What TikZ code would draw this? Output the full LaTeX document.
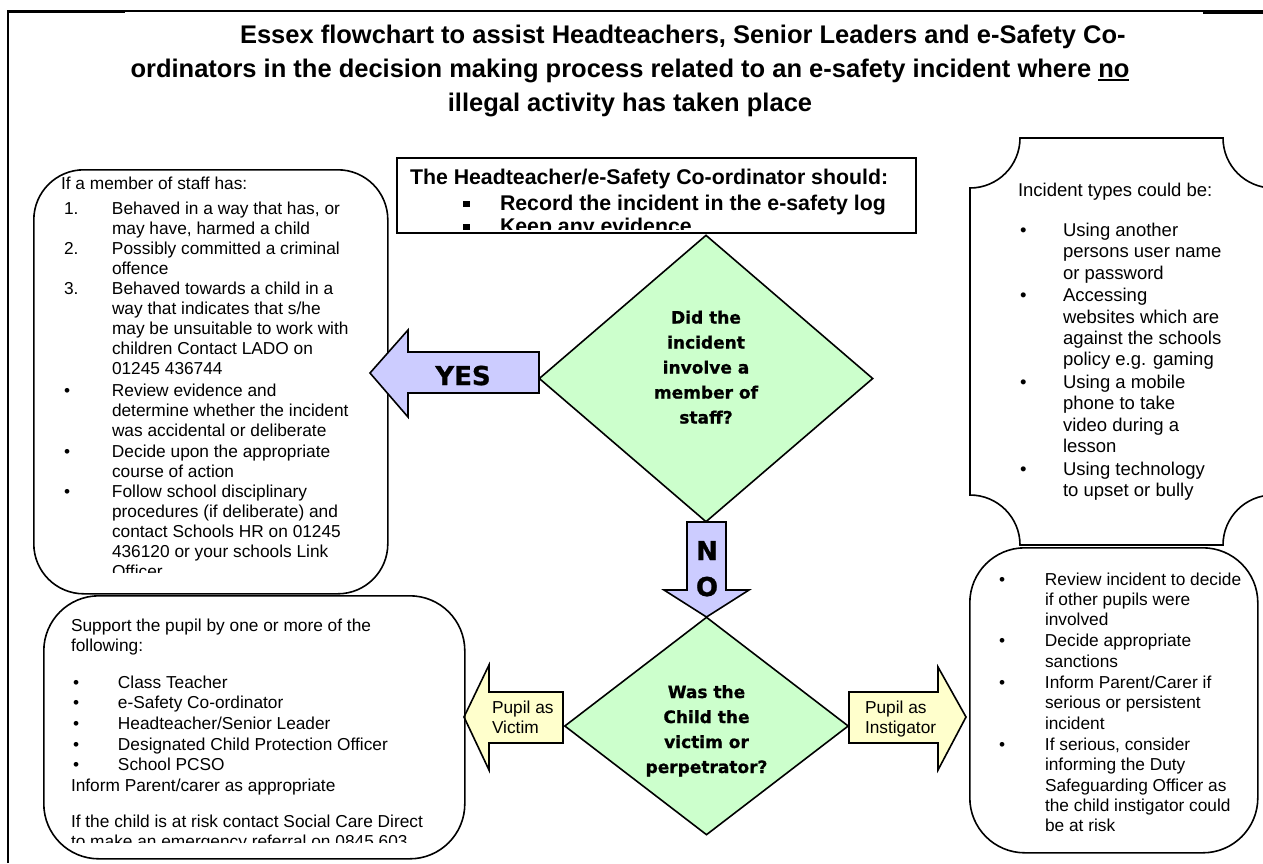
\documentclass[tikz,border=0pt]{standalone}
\usepackage{fontspec}
\setmainfont{Liberation Sans}
\newfontfamily\heavyfont{DejaVu Sans}[BoldFeatures={FakeBold=1.0}]
\usepackage{array}
\usetikzlibrary{shapes.geometric}
\definecolor{dgreen}{HTML}{CCFFCC}
\definecolor{ablue}{HTML}{CCCCFF}
\definecolor{ayellow}{HTML}{FFFFCC}
\newcommand\bodyfont{\fontsize{17.3}{20}\selectfont}
\newcommand\rbfont{\fontsize{17.3}{20.3}\selectfont}
\newcommand\pupfont{\fontsize{17.3}{20.6}\selectfont}
\newcommand\plqfont{\fontsize{18.5}{21.3}\selectfont}
\newcommand\ttlfont{\fontsize{25.5}{34}\selectfont\bfseries}
\newcommand\ctrfont{\fontsize{21.3}{25}\selectfont\bfseries}
\newcommand\qfont{\heavyfont\bfseries\fontsize{17}{25}\selectfont}
\newcommand\bigfont{\heavyfont\bfseries\fontsize{26}{36}\selectfont}
\newcommand\myul[1]{\setbox0\hbox{#1}\rlap{\rule[-3.5pt]{\wd0}{1.8pt}}\box0}
\newcommand\sqbul{\rule[3pt]{6.5pt}{6.5pt}}
\begin{document}
\begin{tikzpicture}[x=1pt,y=-1pt,
  shp/.style={draw=black, line width=1.6pt},
  txt/.style={inner sep=0pt, outer sep=0pt},
  blk/.style={txt, anchor=north west, align=left}]
\useasboundingbox (0,0) rectangle (1263,863);
% page frame
\draw[line width=1.5pt] (8,863) -- (8,11) -- (1263,11);
\draw[line width=2.5pt] (8,11.5) -- (125,11.5);
\draw[line width=1.5pt] (1203,13) -- (1263,13);
% title
\node[txt, anchor=base west] (t1) at (240,43) {\ttlfont Essex flowchart to assist Headteachers, Senior Leaders and e-Safety Co-};
\node[txt, anchor=base] (t2) at (630,77) {\ttlfont ordinators in the decision making process related to an e-safety incident where \myul{no}};
\node[txt, anchor=base] (t3) at (630,111) {\ttlfont illegal activity has taken place};
% central box
\node[shp, anchor=north west, minimum width=519pt, minimum height=75pt, inner sep=0pt] (cbox) at (396,157) {};
\begin{scope}
\clip (396,157) rectangle (915,229);
\node[txt, anchor=base west] (c1) at (410,184) {\ctrfont The Headteacher/e-Safety Co-ordinator should:};
\node[txt, anchor=base west] (c2b) at (463,210) {\sqbul};
\node[txt, anchor=base west] (c2) at (500,210) {\ctrfont Record the incident in the e-safety log};
\node[txt, anchor=base west] (c3b) at (463,233) {\sqbul};
\node[txt, anchor=base west] (c3) at (500,233) {\ctrfont Keep any evidence};
\end{scope}
% left staff box
\node[shp, anchor=north west, rounded corners=50pt, minimum width=354pt, minimum height=424pt, inner sep=0pt] (staff) at (33,169) {};
\begin{scope}
\clip (33,169) rectangle (387,572);
\node[blk] (stafftxt) at (64,175) {\bodyfont
\begin{tabular}{@{}p{48pt}@{}l@{}}
\multicolumn{2}{@{}l@{}}{\hspace*{-3pt}If a member of staff has:}\\[5pt]
1. & Behaved in a way that has, or\\
 & may have, harmed a child\\
2. & Possibly committed a criminal\\
 & offence\\
3. & Behaved towards a child in a\\
 & way that indicates that s/he\\
 & may be unsuitable to work with\\
 & children Contact LADO on\\
 & 01245 436744\\[2pt]
\textbullet & Review evidence and\\
 & determine whether the incident\\
 & was accidental or deliberate\\[1pt]
\textbullet & Decide upon the appropriate\\
 & course of action\\
\textbullet & Follow school disciplinary\\
 & procedures (if deliberate) and\\
 & contact Schools HR on 01245\\
 & 436120 or your schools Link\\
 & Officer
\end{tabular}};
\end{scope}
% plaque (incident types)
\draw[shp, fill=white] (970,188) .. controls (997.6,188) and (1020,165.6) .. (1020,138)
  -- (1223,138) .. controls (1223,165.6) and (1245.4,188) .. (1273,188)
  -- (1273,495) .. controls (1245.4,495) and (1223,517.4) .. (1223,545)
  -- (1020,545) .. controls (1020,517.4) and (997.6,495) .. (970,495) -- cycle;
\node[blk] (plqtxt) at (1018,181.6) {\plqfont
\begin{tabular}{@{}p{45pt}@{}l@{}}
\multicolumn{2}{@{}l@{}}{Incident types could be:}\\[18.7pt]
\hspace*{2pt}\textbullet & Using another\\
 & persons user name\\
 & or password\\[1.5pt]
\hspace*{2pt}\textbullet & Accessing\\
 & websites which are\\
 & against the schools\\
 & policy e.g. gaming\\[1.5pt]
\hspace*{2pt}\textbullet & Using a mobile\\
 & phone to take\\
 & video during a\\
 & lesson\\[1.5pt]
\hspace*{2pt}\textbullet & Using technology\\
 & to upset or bully
\end{tabular}};
% decision 1
\draw[shp, fill=ablue] (539,352) -- (408,352) -- (408,330) -- (370,373) -- (408,417) -- (408,393) -- (539,393) -- cycle;
\node[txt, anchor=base] (yes) at (463,385) {\bigfont YES};
\node[diamond, shp, fill=dgreen, minimum width=334pt, minimum height=287pt, inner sep=0pt] (q1) at (706,378.5) {};
\node[txt, align=center] (q1t) at (706,368.5) {\qfont
\begin{tabular}{@{}c@{}}Did the\\ incident\\ involve a\\ member of\\ staff?\end{tabular}};
% NO arrow
\draw[shp, fill=ablue] (687,522) -- (726,522) -- (726,590) -- (749,590) -- (706.5,617) -- (664,590) -- (687,590) -- cycle;
\node[txt, anchor=base] (non) at (707,560) {\bigfont N};
\node[txt, anchor=base] (noo) at (707,596) {\bigfont O};
% decision 2
\node[diamond, shp, fill=dgreen, minimum width=284pt, minimum height=218pt, inner sep=0pt] (q2) at (706.5,726) {};
\node[txt, align=center] (q2t) at (706.5,730.5) {\qfont
\begin{tabular}{@{}c@{}}Was the\\ Child the\\ victim or\\ perpetrator?\end{tabular}};
% victim arrow
\draw[shp, fill=ayellow] (563,692) -- (489,692) -- (489,665) -- (464,717) -- (489,770) -- (489,743) -- (563,743) -- cycle;
\node[blk] (victim) at (492,699) {\bodyfont\begin{tabular}{@{}l@{}}Pupil as\\ Victim\end{tabular}};
% instigator arrow
\draw[shp, fill=ayellow] (849,692) -- (938,692) -- (938,667) -- (966,717) -- (938,770) -- (938,743) -- (849,743) -- cycle;
\node[blk] (instig) at (865,699) {\bodyfont\begin{tabular}{@{}l@{}}Pupil as\\ Instigator\end{tabular}};
% pupil support box
\node[shp, anchor=north west, rounded corners=55pt, minimum width=421pt, minimum height=263pt, inner sep=0pt] (pupil) at (43,595) {};
\begin{scope}
\clip (43,595) rectangle (464,842);
\node[blk] (puptxt) at (73,616.6) {\pupfont
\begin{tabular}{@{}p{45pt}@{}l@{}}
\multicolumn{2}{@{}l@{}}{\hspace*{-2pt}Support the pupil by one or more of the}\\
\multicolumn{2}{@{}l@{}}{\hspace*{-2pt}following:}\\[16pt]
\textbullet & Class Teacher\\
\textbullet & e-Safety Co-ordinator\\
\textbullet & Headteacher/Senior Leader\\
\textbullet & Designated Child Protection Officer\\
\textbullet & School PCSO\\
\multicolumn{2}{@{}l@{}}{\hspace*{-2pt}Inform Parent/carer as appropriate}\\[15.5pt]
\multicolumn{2}{@{}l@{}}{\hspace*{-2pt}If the child is at risk contact Social Care Direct}\\
\multicolumn{2}{@{}l@{}}{\hspace*{-2pt}to make an emergency referral on 0845 603}
\end{tabular}};
\end{scope}
% right action box
\node[shp, anchor=north west, rounded corners=55pt, minimum width=288pt, minimum height=305pt, inner sep=0pt] (action) at (969,547) {};
\node[blk] (acttxt) at (999,570.8) {\rbfont
\begin{tabular}{@{}p{46pt}@{}l@{}}
\textbullet & Review incident to decide\\
 & if other pupils were\\
 & involved\\[1pt]
\textbullet & Decide appropriate\\
 & sanctions\\[1pt]
\textbullet & Inform Parent/Carer if\\
 & serious or persistent\\
 & incident\\[1pt]
\textbullet & If serious, consider\\
 & informing the Duty\\
 & Safeguarding Officer as\\
 & the child instigator could\\
 & be at risk
\end{tabular}};
\end{tikzpicture}
\end{document}
